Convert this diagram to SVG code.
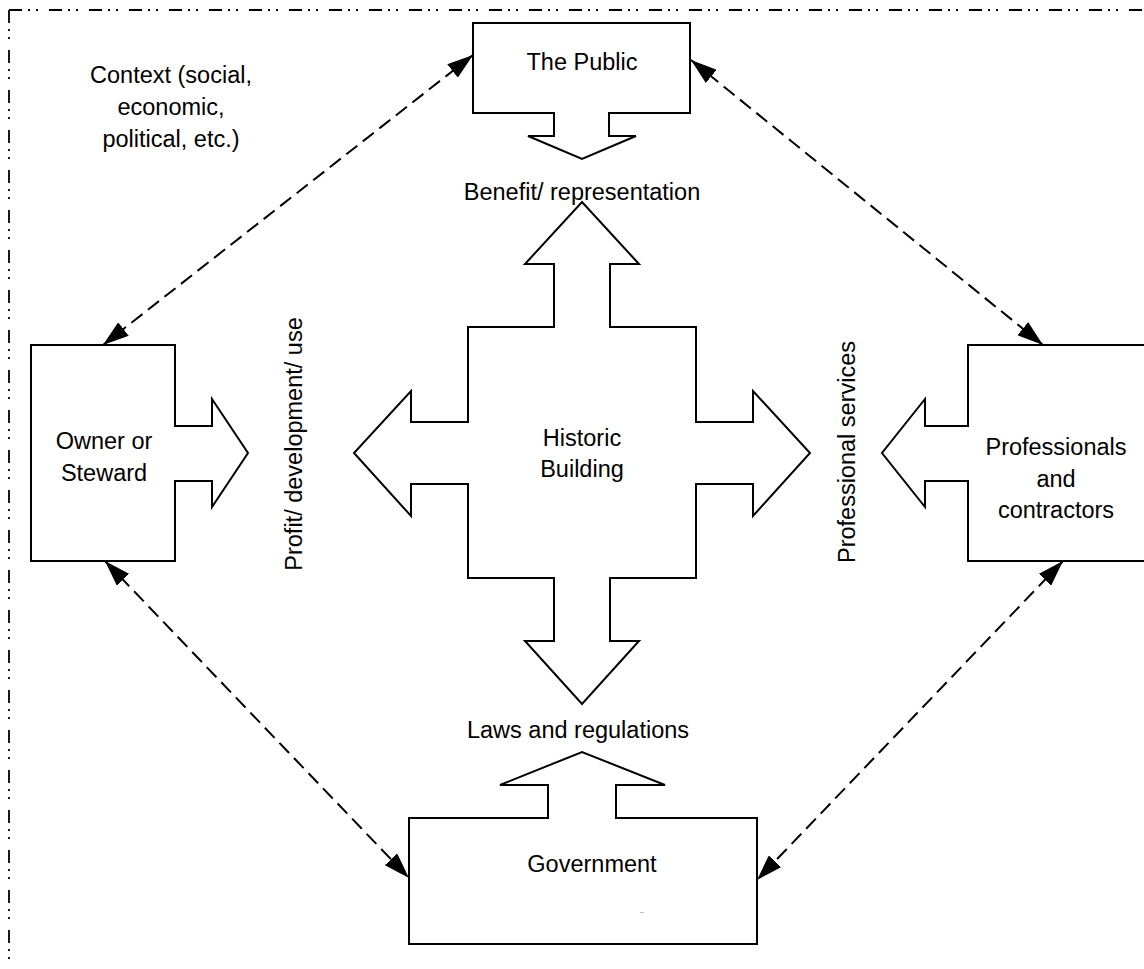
<svg xmlns="http://www.w3.org/2000/svg" width="1144" height="969" viewBox="0 0 1144 969">
<style>
.shape{fill:#fff;stroke:#000;stroke-width:2;stroke-linejoin:miter}
.lbl{font-family:"Liberation Sans",Arial,sans-serif;font-size:23.5px;fill:#000;text-anchor:middle}
.border{fill:none;stroke:#000;stroke-width:1.8;stroke-dasharray:13 6 2 6 2 11}
.conn{fill:none;stroke:#000;stroke-width:2;stroke-dasharray:14 7}
</style>
<defs>
<marker id="ah" viewBox="0 0 26 17" refX="26" refY="8.5" markerWidth="26" markerHeight="17" markerUnits="userSpaceOnUse" orient="auto-start-reverse">
<path d="M0,0 L26,8.5 L0,17 Z" fill="#000"/>
</marker>
</defs>
<rect width="1144" height="969" fill="#fff"/>
<g id="border">
<path class="border" d="M9,10 H1144"/>
<path class="border" d="M9,10 V969"/>
</g>
<g id="context">
<text class="lbl" x="171" y="83">Context (social,</text>
<text class="lbl" x="171" y="115">economic,</text>
<text class="lbl" x="171" y="147">political, etc.)</text>
</g>
<g id="the-public">
<path class="shape" d="M473,23 H690 V113 H609 V136 H636 L582,159 L528,136 H554 V113 H473 Z"/>
<text class="lbl" x="582" y="70">The Public</text>
</g>
<g id="owner">
<path class="shape" d="M31,345 H175 V426 H212 V399 L248,453 L212,507 V481 H175 V561 H31 Z"/>
<text class="lbl" x="104" y="449">Owner or</text>
<text class="lbl" x="104" y="481">Steward</text>
</g>
<g id="professionals">
<path class="shape" d="M968,345 H1150 V561 H968 V481 H925 V507 L882,453 L925,399 V426 H968 Z"/>
<text class="lbl" x="1056" y="455">Professionals</text>
<text class="lbl" x="1056" y="487">and</text>
<text class="lbl" x="1056" y="518">contractors</text>
</g>
<g id="historic-building">
<path class="shape" d="M582,202 L639,264 H610 V327 H696 V422 H753 V391 L810,453 L753,516 V484 H696 V578 H610 V641 H639 L582,704 L525,641 H554 V578 H468 V484 H411 V516 L354,453 L411,391 V422 H468 V327 H554 V264 H525 Z"/>
<text class="lbl" x="582" y="446">Historic</text>
<text class="lbl" x="582" y="477">Building</text>
</g>
<g id="government">
<path class="shape" d="M409,818 H548 V785 H500 L582,752 L665,785 H616 V818 H757 V944 H409 Z"/>
<text class="lbl" x="592" y="872">Government</text>
<rect x="640" y="912" width="4" height="1" fill="#bbb"/>
</g>
<g id="labels">
<text class="lbl" x="582" y="200">Benefit/ representation</text>
<text class="lbl" x="578" y="738">Laws and regulations</text>
<text class="lbl" transform="translate(302,444) rotate(-90)" x="0" y="0">Profit/ development/ use</text>
<text class="lbl" transform="translate(855,452) rotate(-90)" x="0" y="0">Professional services</text>
</g>
<g id="connectors">
<path class="conn" d="M473,55 L103,345" marker-start="url(#ah)" marker-end="url(#ah)"/>
<path class="conn" d="M691,60 L1043,345" marker-start="url(#ah)" marker-end="url(#ah)"/>
<path class="conn" d="M105,561 L409,878" marker-start="url(#ah)" marker-end="url(#ah)"/>
<path class="conn" d="M1063,561 L757,880" marker-start="url(#ah)" marker-end="url(#ah)"/>
</g>
</svg>
